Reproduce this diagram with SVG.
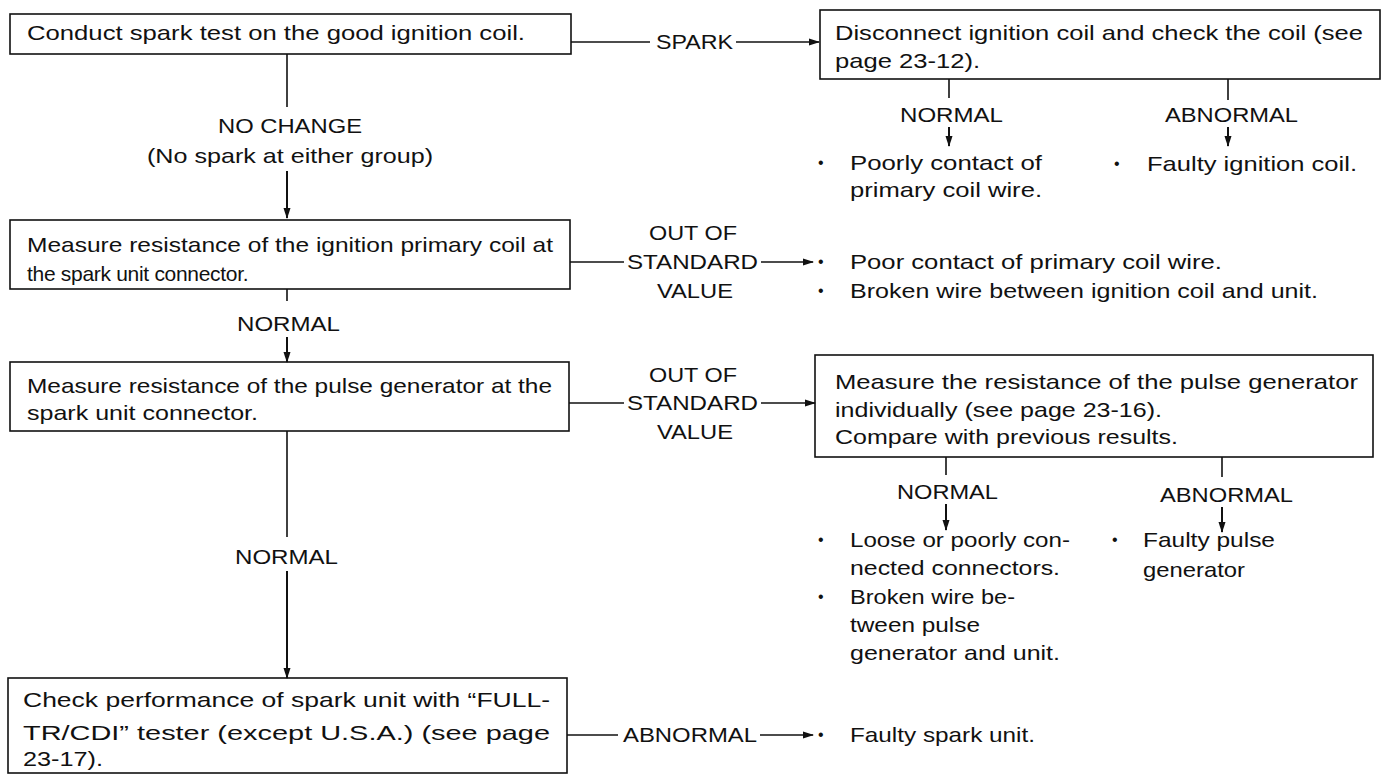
<svg xmlns="http://www.w3.org/2000/svg" width="1384" height="778" viewBox="0 0 1384 778">
<style>
.t{font-family:"Liberation Sans",Arial,Helvetica,sans-serif;font-size:21px;fill:#111;}
.b{font-family:"Liberation Sans",Arial,sans-serif;font-size:16px;fill:#111;}
.box{fill:none;stroke:#111;stroke-width:1.6;}
.ln{fill:none;stroke:#111;stroke-width:1.6;}
.ar{fill:none;stroke:#111;stroke-width:2;marker-end:url(#ah);}
</style>
<defs>
<marker id="ah" markerUnits="userSpaceOnUse" markerWidth="11" markerHeight="8" refX="10" refY="4" orient="auto">
<path d="M0,0.5 L11,4 L0,7.5 Z" fill="#111"/>
</marker>
</defs>
<rect width="1384" height="778" fill="#fff"/>

<g id="n1">
<rect class="box" x="10" y="14" width="561" height="40"/>
<text class="t" x="27" y="40" textLength="498" lengthAdjust="spacingAndGlyphs">Conduct spark test on the good ignition coil.</text>
</g>

<g id="n2">
<rect class="box" x="820" y="10" width="560" height="69"/>
<text class="t" x="835" y="40" textLength="528" lengthAdjust="spacingAndGlyphs">Disconnect ignition coil and check the coil (see</text>
<text class="t" x="835" y="68" textLength="145" lengthAdjust="spacingAndGlyphs">page 23-12).</text>
</g>

<g id="n3">
<rect class="box" x="10" y="220" width="560" height="69"/>
<text class="t" x="27" y="252" textLength="526" lengthAdjust="spacingAndGlyphs">Measure resistance of the ignition primary coil at</text>
<text class="t" x="27" y="281" letter-spacing="-0.3">the spark unit connector.</text>
</g>

<g id="n4">
<rect class="box" x="10" y="362" width="559" height="69"/>
<text class="t" x="27" y="393" textLength="525" lengthAdjust="spacingAndGlyphs">Measure resistance of the pulse generator at the</text>
<text class="t" x="27" y="420" textLength="231" lengthAdjust="spacingAndGlyphs">spark unit connector.</text>
</g>

<g id="n5">
<rect class="box" x="815" y="355" width="558" height="102"/>
<text class="t" x="835" y="389" textLength="523" lengthAdjust="spacingAndGlyphs">Measure the resistance of the pulse generator</text>
<text class="t" x="835" y="417" textLength="327" lengthAdjust="spacingAndGlyphs">individually (see page 23-16).</text>
<text class="t" x="835" y="444" textLength="343" lengthAdjust="spacingAndGlyphs">Compare with previous results.</text>
</g>

<g id="n6">
<rect class="box" x="8" y="678" width="559" height="95"/>
<text class="t" x="23" y="707" textLength="527" lengthAdjust="spacingAndGlyphs">Check performance of spark unit with “FULL-</text>
<text class="t" x="23" y="740" textLength="527" lengthAdjust="spacingAndGlyphs">TR/CDI” tester (except U.S.A.) (see page</text>
<text class="t" x="23" y="766" textLength="80" lengthAdjust="spacingAndGlyphs">23-17).</text>
</g>

<g id="r1">
<text class="b" x="818" y="168">•</text>
<text class="t" x="850" y="170" textLength="192" lengthAdjust="spacingAndGlyphs">Poorly contact of</text>
<text class="t" x="850" y="197" textLength="192" lengthAdjust="spacingAndGlyphs">primary coil wire.</text>
</g>

<g id="r2">
<text class="b" x="1114" y="169">•</text>
<text class="t" x="1147" y="171" textLength="210" lengthAdjust="spacingAndGlyphs">Faulty ignition coil.</text>
</g>

<g id="r3">
<text class="b" x="818" y="267">•</text>
<text class="t" x="850" y="269" textLength="372" lengthAdjust="spacingAndGlyphs">Poor contact of primary coil wire.</text>
<text class="b" x="818" y="296">•</text>
<text class="t" x="850" y="298" textLength="468" lengthAdjust="spacingAndGlyphs">Broken wire between ignition coil and unit.</text>
</g>

<g id="r4">
<text class="b" x="818" y="545">•</text>
<text class="t" x="850" y="547" textLength="220" lengthAdjust="spacingAndGlyphs">Loose or poorly con-</text>
<text class="t" x="850" y="575" textLength="210" lengthAdjust="spacingAndGlyphs">nected connectors.</text>
<text class="b" x="818" y="602">•</text>
<text class="t" x="850" y="604" textLength="165" lengthAdjust="spacingAndGlyphs">Broken wire be-</text>
<text class="t" x="850" y="632" textLength="130" lengthAdjust="spacingAndGlyphs">tween pulse</text>
<text class="t" x="850" y="660" textLength="210" lengthAdjust="spacingAndGlyphs">generator and unit.</text>
</g>

<g id="r5">
<text class="b" x="1112" y="545">•</text>
<text class="t" x="1143" y="547" textLength="132" lengthAdjust="spacingAndGlyphs">Faulty pulse</text>
<text class="t" x="1143" y="577" textLength="102" lengthAdjust="spacingAndGlyphs">generator</text>
</g>

<g id="r6">
<text class="b" x="818" y="740">•</text>
<text class="t" x="850" y="742" textLength="185" lengthAdjust="spacingAndGlyphs">Faulty spark unit.</text>
</g>

<g id="connectors">
<line class="ln" x1="287" y1="54" x2="287" y2="107"/>
<text class="t" x="218" y="133" textLength="144" lengthAdjust="spacingAndGlyphs">NO CHANGE</text>
<text class="t" x="147" y="163" textLength="286" lengthAdjust="spacingAndGlyphs">(No spark at either group)</text>
<line class="ar" x1="287" y1="171" x2="287" y2="218"/>
<line class="ln" x1="571" y1="42" x2="650" y2="42"/>
<text class="t" x="656" y="49" textLength="77" lengthAdjust="spacingAndGlyphs">SPARK</text>
<line class="ln" x1="736" y1="42" x2="819" y2="42" style="marker-end:url(#ah)"/>
<line class="ln" x1="949" y1="79" x2="949" y2="98"/>
<text class="t" x="900" y="122" textLength="103" lengthAdjust="spacingAndGlyphs">NORMAL</text>
<line class="ar" x1="949" y1="127" x2="949" y2="146"/>
<line class="ln" x1="1228" y1="79" x2="1228" y2="100"/>
<text class="t" x="1165" y="122" textLength="133" lengthAdjust="spacingAndGlyphs">ABNORMAL</text>
<line class="ar" x1="1228" y1="127" x2="1228" y2="146"/>
<line class="ln" x1="570" y1="262" x2="624" y2="262"/>
<text class="t" x="649" y="240" textLength="88" lengthAdjust="spacingAndGlyphs">OUT OF</text>
<text class="t" x="627" y="269" textLength="131" lengthAdjust="spacingAndGlyphs">STANDARD</text>
<text class="t" x="657" y="298" textLength="76" lengthAdjust="spacingAndGlyphs">VALUE</text>
<line class="ln" x1="761" y1="262" x2="813" y2="262" style="marker-end:url(#ah)"/>
<line class="ln" x1="287" y1="289" x2="287" y2="301"/>
<text class="t" x="237" y="331" textLength="103" lengthAdjust="spacingAndGlyphs">NORMAL</text>
<line class="ar" x1="287" y1="337" x2="287" y2="362"/>
<line class="ln" x1="569" y1="403" x2="624" y2="403"/>
<text class="t" x="649" y="382" textLength="88" lengthAdjust="spacingAndGlyphs">OUT OF</text>
<text class="t" x="627" y="410" textLength="131" lengthAdjust="spacingAndGlyphs">STANDARD</text>
<text class="t" x="657" y="439" textLength="76" lengthAdjust="spacingAndGlyphs">VALUE</text>
<line class="ln" x1="761" y1="403" x2="815" y2="403" style="marker-end:url(#ah)"/>
<line class="ln" x1="946" y1="457" x2="946" y2="475"/>
<text class="t" x="897" y="499" textLength="101" lengthAdjust="spacingAndGlyphs">NORMAL</text>
<line class="ar" x1="946" y1="504" x2="946" y2="530"/>
<line class="ln" x1="1222" y1="457" x2="1222" y2="477"/>
<text class="t" x="1160" y="502" textLength="133" lengthAdjust="spacingAndGlyphs">ABNORMAL</text>
<line class="ar" x1="1222" y1="507" x2="1222" y2="532"/>
<line class="ln" x1="287" y1="431" x2="287" y2="537"/>
<text class="t" x="235" y="564" textLength="103" lengthAdjust="spacingAndGlyphs">NORMAL</text>
<line class="ar" x1="287" y1="571" x2="287" y2="678"/>
<line class="ln" x1="567" y1="735" x2="618" y2="735"/>
<text class="t" x="623" y="742" textLength="134" lengthAdjust="spacingAndGlyphs">ABNORMAL</text>
<line class="ln" x1="760" y1="735" x2="813" y2="735" style="marker-end:url(#ah)"/>
</g>
</svg>
